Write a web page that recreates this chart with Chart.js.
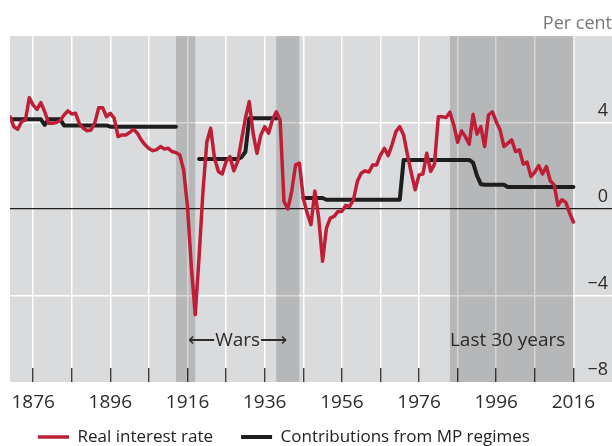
<!DOCTYPE html>
<html>
<head>
<meta charset="utf-8">
<script src="https://cdn.jsdelivr.net/npm/chart.js@4.4.1/dist/chart.umd.min.js"></script>
<style>
html,body{margin:0;padding:0;background:#fff;}
canvas{display:block;}
</style>
</head>
<body>
<canvas id="c" width="612" height="446"></canvas>
<script>
// ---- data ----
const years = [
  1870,1871,1872,1873,1874,1875,1876,1877,1878,1879,
  1880,1881,1882,1883,1884,1885,1886,1887,1888,1889,
  1890,1891,1892,1893,1894,1895,1896,1897,1898,1899,
  1900,1901,1902,1903,1904,1905,1906,1907,1908,1909,
  1910,1911,1912,1913,1914,1915,1916,1917,1918,1919,
  1920,1921,1922,1923,1924,1925,1926,1927,1928,1929,
  1930,1931,1932,1933,1934,1935,1936,1937,1938,1939,
  1940,1941,1942,1943,1944,1945,1946,1947,1948,1949,
  1950,1951,1952,1953,1954,1955,1956,1957,1958,1959,
  1960,1961,1962,1963,1964,1965,1966,1967,1968,1969,
  1970,1971,1972,1973,1974,1975,1976,1977,1978,1979,
  1980,1981,1982,1983,1984,1985,1986,1987,1988,1989,
  1990,1991,1992,1993,1994,1995,1996,1997,1998,1999,
  2000,2001,2002,2003,2004,2005,2006,2007,2008,2009,
  2010,2011,2012,2013,2014,2015,2016
];

const realRate = [
  4.27, 3.81, 3.69, 4.04, 4.12, 5.15, 4.81, 4.61, 4.92, 4.50,
  3.97, 3.97, 4.00, 4.10, 4.35, 4.54, 4.40, 4.43, 3.94, 3.74,
  3.62, 3.66, 4.00, 4.69, 4.69, 4.27, 4.43, 4.20, 3.35, 3.43,
  3.43, 3.54, 3.69, 3.51, 3.20, 2.97, 2.80, 2.70, 2.75, 2.89,
  2.78, 2.81, 2.66, 2.61, 2.50, 1.80, 0.10, -2.70, -4.88, -2.20,
  0.80, 3.10, 3.74, 2.35, 1.74, 1.62, 2.20, 2.43, 1.77, 2.20,
  3.20, 4.20, 4.97, 3.50, 2.58, 3.43, 3.81, 3.51, 4.12, 4.50,
  4.12, 0.35, 0.01, 0.81, 2.04, 2.12, 0.50, -0.18, -0.72, 0.84,
  -0.42, -2.42, -0.88, -0.42, -0.34, -0.11, -0.11, 0.17, 0.12, 0.43,
  1.27, 1.66, 1.77, 1.71, 2.04, 2.04, 2.50, 2.81, 2.47, 2.97,
  3.58, 3.81, 3.43, 2.50, 1.66, 0.89, 1.58, 1.62, 2.58, 1.74,
  2.08, 4.27, 4.27, 4.23, 4.48, 3.89, 3.09, 3.61, 3.35, 3.00,
  4.38, 3.46, 3.81, 2.89, 4.35, 4.50, 4.04, 3.66, 2.89, 3.04,
  3.20, 2.66, 2.74, 2.08, 2.17, 1.50, 1.71, 2.01, 1.62, 1.97,
  1.31, 1.12, 0.17, 0.43, 0.32, -0.18, -0.60
];

const mpRegimes = [
  4.15, 4.15, 4.15, 4.15, 4.15, 4.15, 4.15, 4.15, 4.15, 3.89,
  4.15, 4.15, 4.15, 4.15, 3.87, 3.87, 3.87, 3.87, 3.87, 3.87,
  3.87, 3.87, 3.87, 3.87, 3.87, 3.87, 3.81, 3.81, 3.81, 3.81,
  3.81, 3.81, 3.81, 3.81, 3.81, 3.81, 3.81, 3.81, 3.81, 3.81,
  3.81, 3.81, 3.81, 3.81, null, null, null, null, null, 2.31,
  2.31, 2.31, 2.31, 2.31, 2.31, 2.31, 2.31, 2.31, 2.31, 2.31,
  2.40, 2.65, 4.20, 4.20, 4.20, 4.20, 4.20, 4.20, 4.20, 4.20,
  null, null, null, null, null, null, 0.51, 0.51, 0.51, 0.51,
  0.51, 0.51, 0.43, 0.43, 0.43, 0.43, 0.43, 0.43, 0.43, 0.43,
  0.43, 0.43, 0.43, 0.43, 0.43, 0.43, 0.43, 0.43, 0.43, 0.43,
  0.43, 0.43, 2.27, 2.27, 2.27, 2.27, 2.27, 2.27, 2.27, 2.27,
  2.27, 2.27, 2.27, 2.27, 2.27, 2.27, 2.27, 2.27, 2.27, 2.27,
  2.15, 1.55, 1.15, 1.12, 1.12, 1.12, 1.12, 1.12, 1.12, 1.02,
  1.02, 1.02, 1.02, 1.02, 1.02, 1.02, 1.02, 1.02, 1.02, 1.02,
  1.02, 1.02, 1.02, 1.02, 1.02, 1.02, 1.02
];

const xGridYears  = [1876,1886,1896,1906,1916,1926,1936,1946,1956,1966,1976,1986,1996,2006,2016];
const xLabelYears = [1876,1896,1916,1936,1956,1976,1996,2016];
const yTickValues  = [-8,-4,0,4,8];
const yLabelValues = [-8,-4,0,4];
const shadedPeriods = [[1913,1918],[1939,1945],[1984,2016]];
const annotations = [
  {text:'\u27F5Wars\u27F6', x:1929, y:-6.1, align:'center'},
  {text:'Last 30 years', x:1984, y:-6.1, align:'left'}
];

const FONT = "'Open Sans', sans-serif";
Chart.defaults.font.family = FONT;

const decorPlugin = {
  id: 'decor',
  beforeDraw(chart) {
    const {ctx, chartArea: a} = chart;
    ctx.save();
    ctx.fillStyle = '#dadbdd';
    ctx.fillRect(a.left, a.top, chart.width - a.left, a.bottom - a.top);
    ctx.restore();
  },
  beforeDatasetsDraw(chart) {
    const {ctx, chartArea: a, scales: {x}} = chart;
    ctx.save();
    ctx.fillStyle = 'rgba(0,0,0,0.165)';
    shadedPeriods.forEach(([s, e]) => {
      const x0 = x.getPixelForValue(s), x1 = x.getPixelForValue(e);
      ctx.fillRect(x0, a.top, x1 - x0, a.bottom - a.top);
    });
    ctx.restore();
  },
  afterDatasetsDraw(chart) {
    const {ctx, scales: {x, y}} = chart;
    ctx.save();
    ctx.font = '19px ' + FONT;
    ctx.fillStyle = '#2b2b2b';
    ctx.textBaseline = 'middle';
    annotations.forEach(n => {
      ctx.textAlign = n.align;
      ctx.fillText(n.text, x.getPixelForValue(n.x), y.getPixelForValue(n.y));
    });
    ctx.restore();
  }
};

new Chart(document.getElementById('c'), {
  type: 'line',
  data: {
    datasets: [
      {
        label: 'Real interest rate',
        data: years.map((yr, i) => ({x: yr, y: realRate[i]})),
        borderColor: '#bf1e37',
        backgroundColor: '#bf1e37',
        borderWidth: 3.5,
        pointRadius: 0,
        tension: 0,
        borderJoinStyle: 'round',
        borderCapStyle: 'round'
      },
      {
        label: 'Contributions from MP regimes',
        data: years.map((yr, i) => ({x: yr, y: mpRegimes[i]})),
        borderColor: '#1e1e1e',
        backgroundColor: '#1e1e1e',
        borderWidth: 4,
        pointRadius: 0,
        tension: 0,
        spanGaps: false,
        borderJoinStyle: 'round',
        borderCapStyle: 'round'
      }
    ]
  },
  options: {
    responsive: false,
    animation: false,
    devicePixelRatio: 1,
    layout: { padding: { left: 10, right: 0, top: 0, bottom: -9.5 } },
    scales: {
      x: {
        type: 'linear',
        min: 1870,
        max: 2026,
        afterBuildTicks: s => { s.ticks = xGridYears.map(v => ({value: v})); },
        afterFit: s => { s.height = 18.5; s.paddingLeft = 0; s.paddingRight = 0; },
        grid: { color: '#ffffff', lineWidth: 1.5, drawTicks: true, tickLength: -14, tickColor: '#2a2a2a', tickWidth: 1.3 },
        border: { display: false },
        ticks: {
          autoSkip: false, maxRotation: 0, minRotation: 0, mirror: true, padding: -32,
          color: '#2b2b2b', font: { size: 19 },
          callback: v => xLabelYears.includes(v) ? String(v) : ''
        }
      },
      y: {
        position: 'right',
        min: -8,
        max: 8,
        afterBuildTicks: s => { s.ticks = yTickValues.map(v => ({value: v})); },
        afterFit: s => { s.width = 0; },
        grid: {
          drawTicks: false,
          color: c => c.tick.value === 0 ? '#1e1e1e' : (Math.abs(c.tick.value) === 4 ? '#ffffff' : 'rgba(0,0,0,0)'),
          lineWidth: c => c.tick.value === 0 ? 1.2 : 1.5
        },
        border: { display: false },
        ticks: {
          mirror: true, padding: -4, labelOffset: -12,
          color: '#2b2b2b', font: { size: 18 },
          callback: v => yLabelValues.includes(v) ? (v < 0 ? '\u2212' + Math.abs(v) : String(v)) : ''
        }
      }
    },
    plugins: {
      title: {
        display: true, text: 'Per cent', align: 'end', color: '#777777',
        font: { size: 18, weight: 'normal' }, padding: { top: 13, bottom: 1.5 }
      },
      legend: {
        position: 'bottom', align: 'start',
        labels: {
          usePointStyle: true, pointStyle: 'line', pointStyleWidth: 31,
          padding: 28, color: '#222222', font: { size: 17 }
        }
      },
      tooltip: { enabled: false }
    }
  },
  plugins: [decorPlugin]
});
</script>
</body>
</html>
